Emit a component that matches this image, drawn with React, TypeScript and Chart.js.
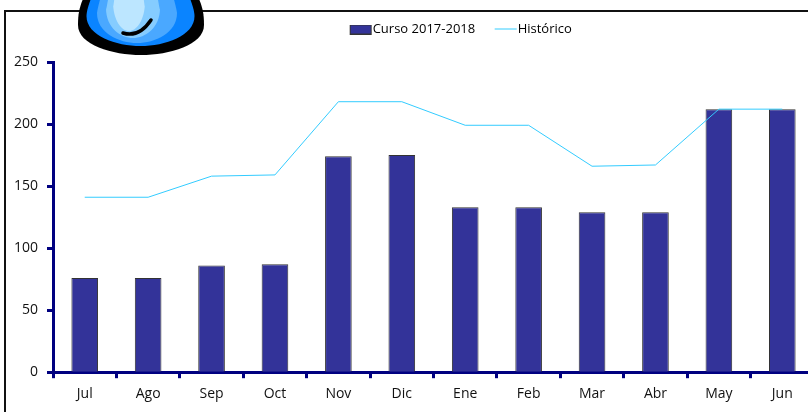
import React, { useEffect, useRef } from "react";
import { Chart, registerables } from "chart.js";

Chart.register(...registerables);

const months = ["Jul", "Ago", "Sep", "Oct", "Nov", "Dic", "Ene", "Feb", "Mar", "Abr", "May", "Jun"];
const curso = [76, 76, 86, 87, 174, 175, 133, 133, 129, 129, 212, 212];
const historico = [141, 141, 158, 159, 218, 218, 199, 199, 166, 167, 212, 212];
const yTicks = [0, 50, 100, 150, 200, 250];

const FONT = "'Open Sans', sans-serif";
const NAVY = "#000080";
const BAR = "#333399";
const BAR_EDGE = "#333333";
const LINE = "#33CCFF";

function swatch(kind: "bar" | "line") {
  const s = document.createElement("canvas");
  s.width = 32;
  s.height = 10;
  const c = s.getContext("2d")!;
  if (kind === "bar") {
    c.fillStyle = BAR;
    c.fillRect(8, 0, 22, 10);
    c.strokeStyle = BAR_EDGE;
    c.lineWidth = 1;
    c.strokeRect(8.5, 0.5, 21, 9);
  } else {
    c.fillStyle = LINE;
    c.fillRect(8, 4, 22, 1);
  }
  return s;
}

const decor = {
  id: "decor",
  afterLayout(chart: any) {
    // centre the legend over the frame rather than the whole canvas
    chart.legend.left = 107;
  },
  beforeLayout(chart: any) {
    const l = chart.legend;
    if (!l.__patched) {
      const fit = l.fit;
      l.fit = function () {
        fit.call(this);
        this.height += 16;
      };
      l.__patched = true;
    }
  },
  beforeDraw(chart: any) {
    const c = chart.ctx;
    c.save();
    c.fillStyle = "#fff";
    c.fillRect(0, 0, chart.width, chart.height);
    // frame
    c.strokeStyle = "#111";
    c.lineWidth = 2;
    c.beginPath();
    c.moveTo(5, 412);
    c.lineTo(5, 11);
    c.lineTo(chart.width, 11);
    c.stroke();
    // drop icon
    const blob = (cx: number, w: number, bottom: number, color: string) => {
      c.fillStyle = color;
      c.beginPath();
      c.moveTo(cx - w * 0.9, -4);
      c.bezierCurveTo(cx - w * 0.97, 6, cx - w, 12, cx - w, bottom - 30);
      c.bezierCurveTo(cx - w, bottom - 10, cx - w * 0.45, bottom, cx, bottom);
      c.bezierCurveTo(cx + w * 0.45, bottom, cx + w, bottom - 10, cx + w, bottom - 30);
      c.bezierCurveTo(cx + w, 12, cx + w * 0.97, 6, cx + w * 0.9, -4);
      c.closePath();
      c.fill();
    };
    blob(141, 63, 55, "#000");
    blob(140.5, 54, 46, "#0a84ff");
    blob(137, 40, 43, "#4aa8ff");
    blob(133, 27, 38, "#85ccff");
    blob(129, 16, 31, "#bce6ff");
    c.strokeStyle = "#000";
    c.lineWidth = 3.5;
    c.lineCap = "round";
    c.beginPath();
    c.moveTo(123, 33);
    c.quadraticCurveTo(139, 38, 151, 20);
    c.stroke();
    c.restore();
  },
};

export default function App() {
  const ref = useRef<HTMLCanvasElement>(null);
  useEffect(() => {
    const chart = new Chart(ref.current!, {
      data: {
        labels: months,
        datasets: [
          {
            type: "bar",
            label: "Curso 2017-2018",
            data: curso,
            backgroundColor: BAR,
            borderColor: BAR_EDGE,
            borderWidth: 1,
            categoryPercentage: 1,
            barPercentage: 0.42,
            order: 2,
          },
          {
            type: "line",
            label: "Histórico",
            data: historico,
            borderColor: LINE,
            backgroundColor: LINE,
            borderWidth: 1,
            pointRadius: 0,
            tension: 0,
            order: 1,
          },
        ],
      } as any,
      options: {
        responsive: false,
        animation: false,
        devicePixelRatio: 1,
        layout: { padding: { left: 5, right: 0, top: 4, bottom: 3 } },
        plugins: {
          tooltip: { enabled: false },
          legend: {
            position: "top",
            labels: {
              color: "#111",
              font: { family: FONT, size: 13 },
              usePointStyle: true,
              pointStyleWidth: 17,
              boxHeight: 8,
              padding: 19,
              generateLabels(chart: any) {
                return chart.data.datasets.map((d: any, i: number) => ({
                  text: d.label,
                  fillStyle: d.backgroundColor,
                  strokeStyle: d.borderColor,
                  lineWidth: 0,
                  pointStyle: swatch(i === 0 ? "bar" : "line"),
                  datasetIndex: i,
                }));
              },
            },
          },
        },
        scales: {
          x: {
            offset: true,
            border: { color: NAVY, width: 3 },
            grid: {
              display: true,
              offset: true,
              drawOnChartArea: false,
              drawTicks: true,
              tickLength: 6,
              tickWidth: 3,
              tickColor: NAVY,
            },
            ticks: { color: "#111", font: { family: FONT, size: 14 }, padding: 7, maxRotation: 0, autoSkip: false },
          },
          y: {
            min: 0,
            max: 250,
            afterBuildTicks(axis: any) {
              axis.ticks = yTicks.map((value) => ({ value }));
            },
            border: { color: NAVY, width: 3 },
            grid: { drawOnChartArea: false, drawTicks: true, tickLength: 6, tickWidth: 3, tickColor: NAVY },
            ticks: { color: "#111", font: { family: FONT, size: 14 }, padding: 9 },
          },
        },
      },
      plugins: [decor],
    } as any);
    return () => chart.destroy();
  }, []);
  return (
    <div style={{ position: "fixed", left: 0, top: 0, width: 808, height: 412, overflow: "hidden", background: "#fff" }}>
      <canvas ref={ref} width={814} height={412} style={{ display: "block" }} />
    </div>
  );
}
